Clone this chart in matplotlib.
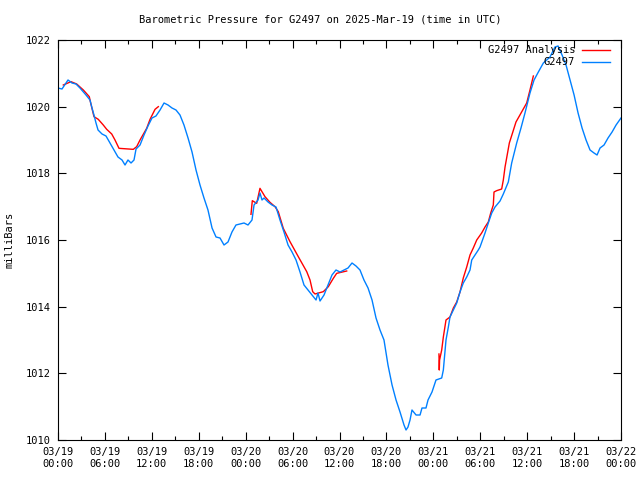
import numpy as np
import pandas as pd
import matplotlib
matplotlib.use("Agg")
import matplotlib.pyplot as plt
import matplotlib.dates as mdates

# hours since 2025-03-19 00:00 UTC, pressure in millibars
station_hours = [0, 0.51, 1.02, 1.28, 1.79, 2.30, 2.81, 3.58, 4.09, 4.35, 4.60, 4.86,
                 5.12, 5.63, 6.14, 6.65, 7.16, 7.67, 8.19, 8.57, 8.95, 9.34, 9.72, 9.98,
                 10.49, 11.0, 11.51, 12.02, 12.53, 13.05, 13.56, 14.07, 14.58, 15.09, 15.60,
                 16.11, 16.63, 17.14, 17.65, 18.16, 18.67, 19.18, 19.70, 20.21, 20.72, 21.23,
                 21.74, 22.25, 22.76, 23.28, 23.79, 24.30, 24.81, 25.07, 25.58, 25.83, 26.09,
                 26.35, 26.86, 27.37, 27.88, 28.39, 28.90, 29.42, 29.93, 30.44, 30.95, 31.46,
                 31.97, 32.48, 33.0, 33.25, 33.51, 34.02, 34.53, 35.04, 35.55, 36.07, 36.58,
                 37.09, 37.60, 38.11, 38.62, 39.13, 39.65, 40.16, 40.67, 41.18, 41.69, 42.20,
                 42.72, 43.23, 43.74, 44.25, 44.51, 44.76, 45.02, 45.27, 45.79, 46.30, 46.55,
                 47.06, 47.32, 47.83,
                 48.34, 49.07, 49.28, 49.62, 49.92, 50.13, 50.56, 50.99, 51.41, 51.83,
                 52.27, 52.69, 52.91, 53.33, 53.75, 53.97, 54.61, 55.03, 55.47, 55.89,
                 56.53, 56.95, 57.59, 58.02, 58.66, 59.21, 59.72, 60.36, 60.88, 61.43,
                 62.07, 62.92, 63.56, 63.95, 64.46, 64.97, 65.48, 66.0, 66.51, 67.02, 67.53,
                 68.04, 68.55, 68.94, 69.32, 69.83, 70.34, 70.86, 71.37, 72.0]
station_mb = [1020.56, 1020.53, 1020.71, 1020.80, 1020.71, 1020.68, 1020.56, 1020.35, 1020.20,
              1019.96, 1019.75, 1019.51, 1019.30, 1019.18, 1019.12, 1018.91, 1018.70, 1018.49,
              1018.40, 1018.25, 1018.40, 1018.31, 1018.40, 1018.73, 1018.85, 1019.15, 1019.42,
              1019.66, 1019.72, 1019.90, 1020.11, 1020.05, 1019.96, 1019.90, 1019.75, 1019.45,
              1019.06, 1018.64, 1018.10, 1017.65, 1017.26, 1016.90, 1016.36, 1016.09, 1016.06,
              1015.85, 1015.94, 1016.24, 1016.45, 1016.48, 1016.51, 1016.45, 1016.60, 1017.05,
              1017.20, 1017.41, 1017.20, 1017.26, 1017.14, 1017.05, 1016.99, 1016.60, 1016.24,
              1015.85, 1015.64, 1015.40, 1015.04, 1014.65, 1014.50, 1014.35, 1014.20, 1014.41,
              1014.17, 1014.35, 1014.65, 1014.95, 1015.10, 1015.04, 1015.10, 1015.16, 1015.31,
              1015.22, 1015.10, 1014.80, 1014.56, 1014.20, 1013.66, 1013.30, 1013.00, 1012.25,
              1011.65, 1011.20, 1010.84, 1010.45, 1010.30, 1010.39, 1010.60, 1010.90, 1010.75,
              1010.75, 1010.96, 1010.96, 1011.20, 1011.44,
              1011.80, 1011.86, 1012.10, 1013.00, 1013.39, 1013.69, 1013.90, 1014.11, 1014.44,
              1014.71, 1014.89, 1015.10, 1015.40, 1015.55, 1015.70, 1015.79, 1016.21, 1016.51,
              1016.81, 1016.99, 1017.17, 1017.38, 1017.74, 1018.31, 1018.91, 1019.36, 1019.81,
              1020.41, 1020.80, 1021.04, 1021.31, 1021.49, 1021.79, 1021.82, 1021.55, 1021.25,
              1020.80, 1020.35, 1019.81, 1019.36, 1019.00, 1018.70, 1018.61, 1018.55, 1018.76,
              1018.85, 1019.06, 1019.24, 1019.45, 1019.66]

# analysis runs, NaN separates the three pieces
analysis_hours = [0.68, 1.66, 2.39, 3.24, 4.0, 4.18, 4.6, 5.15, 5.79, 6.23, 6.87, 7.29, 7.8,
                  9.63, 10.06, 10.49, 11.34, 11.77, 12.41, 12.83, np.nan,
                  24.68, 24.85, 25.41, 25.83, 26.47, 27.11, 27.75, 28.17, 28.81, 29.67, 30.73,
                  31.81, 32.23, 32.57, 32.87, 33.93, 34.57, 35.21, 35.64, 36.92, np.nan,
                  48.72, 48.76, 48.80, 49.07, 49.28, 49.62, 50.13, 50.56, 50.99, 51.41, 51.83,
                  52.27, 52.69, 53.11, 53.55, 54.18, 54.61, 55.03, 55.34, 55.67, 55.76, 56.10,
                  56.74, 56.95, 57.17, 57.72, 58.57, 59.94, 60.36, 60.79]
analysis_mb = [1020.65, 1020.75, 1020.68, 1020.50, 1020.30, 1020.11, 1019.70, 1019.62,
               1019.45, 1019.32, 1019.18, 1019.0, 1018.75, 1018.72, 1018.80, 1019.0, 1019.35,
               1019.62, 1019.92, 1020.0, np.nan,
               1016.77, 1017.18, 1017.10, 1017.55, 1017.30, 1017.13, 1017.0, 1016.85, 1016.35,
               1015.95, 1015.50, 1015.05, 1014.80, 1014.45, 1014.38, 1014.45, 1014.60, 1014.85,
               1015.0, 1015.07, np.nan,
               1012.58, 1012.10, 1012.40, 1012.70, 1013.09, 1013.60, 1013.69, 1013.96, 1014.14,
               1014.44, 1014.86, 1015.19, 1015.55, 1015.76, 1016.0, 1016.21, 1016.39, 1016.54,
               1016.81, 1017.05, 1017.44, 1017.48, 1017.53, 1017.80, 1018.19, 1018.91, 1019.54,
               1020.11, 1020.50, 1020.92]

start = pd.Timestamp("2025-03-19 00:00")
t_station = start + pd.to_timedelta(station_hours, unit="h")
t_analysis = start + pd.to_timedelta(np.nan_to_num(analysis_hours), unit="h")
a_mb = np.array(analysis_mb, dtype=float)

plt.rcParams['font.family'] = ['DejaVu Sans Mono']
plt.rcParams['font.size'] = 7.5

fig = plt.figure(figsize=(6.4, 4.8), dpi=100)
ax = fig.add_axes([58 / 640, 40 / 480, 563 / 640, 400 / 480])

ax.plot(t_analysis, a_mb, color='#ff0000', lw=1)
ax.plot(t_station, station_mb, color='#0080ff', lw=1)

ax.set_xlim(start, start + pd.Timedelta(hours=72))
ax.set_ylim(1010, 1022)
ax.set_yticks(np.arange(1010, 1023, 2))
ax.xaxis.set_major_locator(mdates.HourLocator(byhour=[0, 6, 12, 18]))
ax.xaxis.set_minor_locator(mdates.HourLocator(byhour=[3, 9, 15, 21]))
ax.xaxis.set_major_formatter(mdates.DateFormatter("%m/%d\n%H:%M"))
ax.tick_params(which='both', direction='in', top=True, right=True, pad=5)
ax.tick_params(which='major', length=6, width=0.8)
ax.tick_params(which='minor', length=3, width=0.8)
for s in ax.spines.values():
    s.set_linewidth(0.8)

ax.set_ylabel("milliBars", labelpad=8)
fig.text(0.5, 1 - 20 / 480, "Barometric Pressure for G2497 on 2025-Mar-19 (time in UTC)",
         ha='center', va='center')

# gnuplot style key, text right aligned with sample line after it
for i, (lbl, col) in enumerate([("G2497 Analysis", '#ff0000'), ("G2497", '#0080ff')]):
    yk = 1 - (10 + 12 * i) / 400
    ax.text(517 / 563, yk, lbl, transform=ax.transAxes, ha='right', va='center')
    ax.plot([524 / 563, 552 / 563], [yk, yk], transform=ax.transAxes, color=col, lw=1)

fig.savefig("out.png", dpi=100)
